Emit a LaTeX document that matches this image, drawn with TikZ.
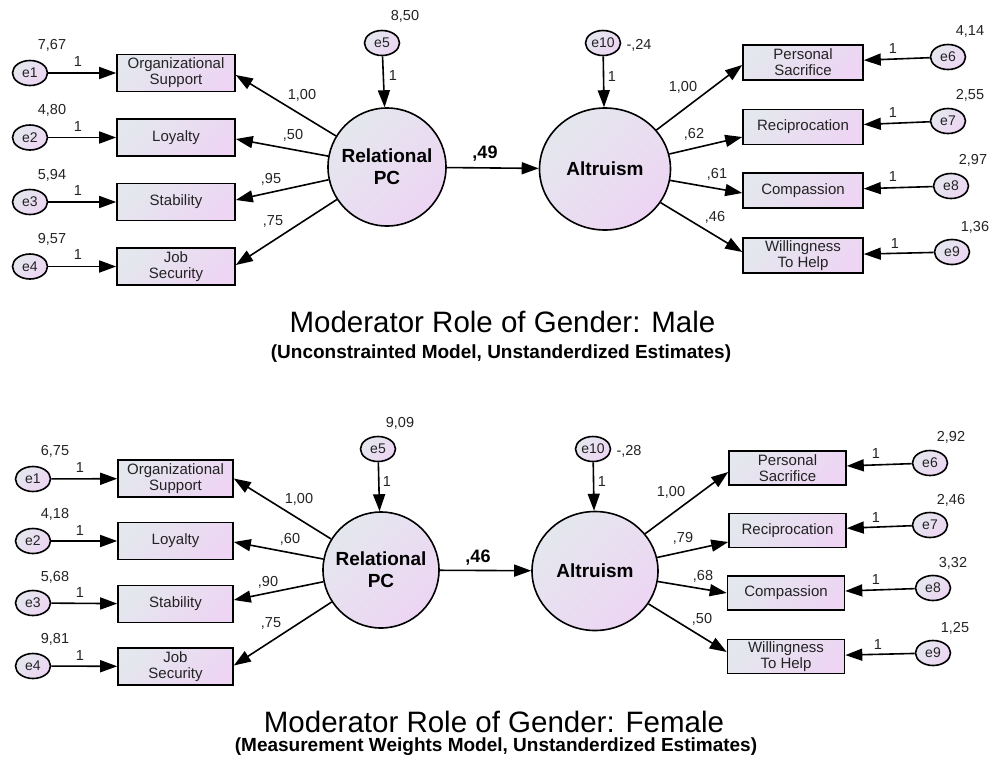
\documentclass[tikz,border=0pt]{standalone}
\usepackage{fontspec}
\setmainfont{Liberation Sans}
\usetikzlibrary{arrows.meta,calc,shapes.geometric}

\definecolor{gA}{RGB}{228,231,238}
\definecolor{gB}{RGB}{237,213,243}
\definecolor{txt}{RGB}{35,35,35}

\tikzset{
 shadedfill/.style={top color=gA, bottom color=gB, shading angle=45},
 errnode/.style={ellipse, draw=black, line width=1.6pt, shadedfill, minimum width=35pt, minimum height=25pt, inner sep=0pt, font=\fontsize{14}{15}\selectfont, text=txt},
 obsnode/.style={rectangle, draw=black, line width=1.6pt, shadedfill, inner sep=0pt, align=center, font=\fontsize{15}{16}\selectfont, text=txt},
 latnode/.style={ellipse, draw=black, line width=1.6pt, shadedfill, inner sep=0pt},
 lattext/.style={align=center, font=\fontsize{19}{22}\selectfont\bfseries, text=black, inner sep=0pt},
 num/.style={font=\fontsize{14.5}{16}\selectfont, text=txt, inner sep=0pt, anchor=base},
 conn/.style={line width=1.6pt, -{Triangle[length=17pt,width=12pt]}},
 coef/.style={font=\fontsize{18}{20}\selectfont\bfseries, inner sep=0pt, anchor=base},
 titletext/.style={font=\fontsize{29.5}{32}\selectfont, inner sep=0pt, anchor=base},
 subtitletext/.style={font=\fontsize{19}{21}\selectfont\bfseries, inner sep=0pt, anchor=base},
}

\begin{document}
\begin{tikzpicture}[x=1pt,y=-1pt]
\useasboundingbox (0,0) rectangle (990,763);

% ================= TOP PANEL =================
\node[errnode] (te1) at (30,73) {e1};
\node[errnode] (te2) at (30,137.5) {e2};
\node[errnode] (te3) at (30,202) {e3};
\node[errnode] (te4) at (30,266.5) {e4};

\node[obsnode, minimum width=118pt, minimum height=37pt] (torg) at (176,73) {Organizational\\Support};
\node[obsnode, minimum width=118pt, minimum height=37pt] (tloy) at (176,137.5) {Loyalty};
\node[obsnode, minimum width=118pt, minimum height=37pt] (tsta) at (176,202) {Stability};
\node[obsnode, minimum width=118pt, minimum height=37pt] (tjob) at (176,266.5) {Job\\Security};

\node[latnode, minimum width=118pt, minimum height=118pt] (trpc) at (387,167) {};
\node[lattext] (trpct) at (trpc.center) {Relational\\PC};
\node[errnode] (te5) at (382,43) {e5};

\node[latnode, minimum width=131pt, minimum height=122pt] (talt) at (605,169) {};
\node[lattext] (taltt) at (talt.center) {Altruism};
\node[errnode] (te10) at (603,43) {e10};

\node[obsnode, minimum width=120pt, minimum height=35pt] (tps) at (803,62.5) {Personal\\Sacrifice};
\node[obsnode, minimum width=120pt, minimum height=35pt] (trec) at (803,127) {Reciprocation};
\node[obsnode, minimum width=120pt, minimum height=35pt] (tcom) at (803,190.5) {Compassion};
\node[obsnode, minimum width=120pt, minimum height=35pt] (twil) at (803,255.5) {Willingness\\To Help};

\node[errnode] (te6) at (948,57) {e6};
\node[errnode] (te7) at (948,121) {e7};
\node[errnode] (te8) at (951,186) {e8};
\node[errnode] (te9) at (952,252) {e9};

% connectors
\draw[conn] (te1) -- (torg);
\draw[conn] (te2) -- (tloy);
\draw[conn] (te3) -- (tsta);
\draw[conn] (te4) -- (tjob);
\draw[conn] (trpc) -- ($(torg.east)+(0,2)$);
\draw[conn] (trpc) -- ($(tloy.east)+(0,1.5)$);
\draw[conn] (trpc) -- ($(tsta.east)+(0,-2)$);
\draw[conn] (trpc) -- ($(tjob.east)+(0,-1.5)$);
\draw[conn] (te5) -- (trpc);
\draw[conn] (trpc) -- (talt);
\draw[conn] (te10) -- (talt);
\draw[conn] (talt) -- ($(tps.west)+(0,2.5)$);
\draw[conn] (talt) -- ($(trec.west)+(0,10)$);
\draw[conn] (talt) -- ($(tcom.west)+(0,2.5)$);
\draw[conn] (talt) -- ($(twil.west)+(0,-3.5)$);
\draw[conn] (te6) -- (tps);
\draw[conn] (te7) -- (trec);
\draw[conn] (te8) -- (tcom);
\draw[conn] (te9) -- (twil);

% labels
\node[num] (tl1) at (52,49) {7,67};
\node[num] (tl2) at (52,114) {4,80};
\node[num] (tl3) at (52,179) {5,94};
\node[num] (tl4) at (52,243) {9,57};
\node[num] (to1) at (78,66) {1};
\node[num] (to2) at (78,131) {1};
\node[num] (to3) at (78,195) {1};
\node[num] (to4) at (78,259) {1};
\node[num] (tl5) at (405,20) {8,50};
\node[num] (to5) at (393,80) {1};
\node[num] (tc1) at (302,99) {1,00};
\node[num] (tc2) at (293,139) {,50};
\node[num] (tc3) at (271,183) {,95};
\node[num] (tc4) at (273,225) {,75};
\node[coef] (tmain) at (485,158) {,49};
\node[num] (tl10) at (639,49) {-,24};
\node[num] (to10) at (612,81) {1};
\node[num] (tc5) at (683,91) {1,00};
\node[num] (tc6) at (694,138) {,62};
\node[num] (tc7) at (717,178) {,61};
\node[num] (tc8) at (715,221) {,46};
\node[num] (to6) at (893,53) {1};
\node[num] (to7) at (893,117) {1};
\node[num] (to8) at (893,181) {1};
\node[num] (to9) at (895,248) {1};
\node[num] (tl6) at (970,35) {4,14};
\node[num] (tl7) at (970,99) {2,55};
\node[num] (tl8) at (973,164) {2,97};
\node[num] (tl9) at (975,231) {1,36};

\node[titletext] (ttitle) at (502.5,332) {Moderator Role of Gender: Male};
\node[subtitletext] (tsub) at (501,358) {(Unconstrainted Model, Unstanderdized Estimates)};

% ================= BOTTOM PANEL =================
\node[errnode] (be1) at (33,479) {e1};
\node[errnode] (be2) at (33,541) {e2};
\node[errnode] (be3) at (33,603) {e3};
\node[errnode] (be4) at (33,666) {e4};

\node[obsnode, minimum width=115pt, minimum height=37pt] (borg) at (175.5,478.5) {Organizational\\Support};
\node[obsnode, minimum width=115pt, minimum height=37pt] (bloy) at (175.5,541) {Loyalty};
\node[obsnode, minimum width=115pt, minimum height=37pt] (bsta) at (175.5,604) {Stability};
\node[obsnode, minimum width=115pt, minimum height=37pt] (bjob) at (175.5,666.5) {Job\\Security};

\node[latnode, minimum width=116pt, minimum height=116pt] (brpc) at (381,570) {};
\node[lattext] (brpct) at (brpc.center) {Relational\\PC};
\node[errnode] (be5) at (378,449) {e5};

\node[latnode, minimum width=126pt, minimum height=119pt] (balt) at (595,571) {};
\node[lattext] (baltt) at (balt.center) {Altruism};
\node[errnode] (be10) at (593,449) {e10};

\node[obsnode, minimum width=117pt, minimum height=34pt] (bps) at (787.5,468) {Personal\\Sacrifice};
\node[obsnode, minimum width=117pt, minimum height=34pt] (brec) at (787.5,530.5) {Reciprocation};
\node[obsnode, minimum width=117pt, minimum height=34pt] (bcom) at (786,593) {Compassion};
\node[obsnode, minimum width=117pt, minimum height=34pt] (bwil) at (786,656.5) {Willingness\\To Help};

\node[errnode] (be6) at (930,463) {e6};
\node[errnode] (be7) at (930,525) {e7};
\node[errnode] (be8) at (933,588) {e8};
\node[errnode] (be9) at (933,653) {e9};

\draw[conn] (be1) -- (borg);
\draw[conn] (be2) -- (bloy);
\draw[conn] (be3) -- (bsta);
\draw[conn] (be4) -- (bjob);
\draw[conn] (brpc) -- (borg.east);
\draw[conn] (brpc) -- ($(bloy.east)+(0,1)$);
\draw[conn] (brpc) -- ($(bsta.east)+(0,-4)$);
\draw[conn] (brpc) -- ($(bjob.east)+(0,-1)$);
\draw[conn] (be5) -- (brpc);
\draw[conn] (brpc) -- (balt);
\draw[conn] (be10) -- (balt);
\draw[conn] (balt) -- ($(bps.west)+(0,4)$);
\draw[conn] (balt) -- ($(brec.west)+(0,11.5)$);
\draw[conn] (balt) -- (bcom.west);
\draw[conn] (balt) -- ($(bwil.west)+(0,-4.5)$);
\draw[conn] (be6) -- (bps);
\draw[conn] (be7) -- (brec);
\draw[conn] (be8) -- (bcom);
\draw[conn] (be9) -- (bwil);

\node[num] (bl1) at (55,455) {6,75};
\node[num] (bl2) at (55,518) {4,18};
\node[num] (bl3) at (55,581) {5,68};
\node[num] (bl4) at (55,643) {9,81};
\node[num] (bo1) at (80,472) {1};
\node[num] (bo2) at (80,535) {1};
\node[num] (bo3) at (80,597) {1};
\node[num] (bo4) at (80,660) {1};
\node[num] (bl5) at (400,427) {9,09};
\node[num] (bo5) at (387,486) {1};
\node[num] (bc1) at (299,503) {1,00};
\node[num] (bc2) at (290,543) {,60};
\node[num] (bc3) at (268,586) {,90};
\node[num] (bc4) at (271,627) {,75};
\node[coef] (bmain) at (478,562) {,46};
\node[num] (bl10) at (629,455) {-,28};
\node[num] (bo10) at (602,486) {1};
\node[num] (bc5) at (671,496) {1,00};
\node[num] (bc6) at (683,542) {,79};
\node[num] (bc7) at (703,580) {,68};
\node[num] (bc8) at (702,623) {,50};
\node[num] (bo6) at (876,458) {1};
\node[num] (bo7) at (876,522) {1};
\node[num] (bo8) at (876,584) {1};
\node[num] (bo9) at (878,649) {1};
\node[num] (bl6) at (951,441) {2,92};
\node[num] (bl7) at (951,504) {2,46};
\node[num] (bl8) at (953,567) {3,32};
\node[num] (bl9) at (955,632) {1,25};

\node[titletext] (btitle) at (494,732) {Moderator Role of Gender: Female};
\node[subtitletext] (bsub) at (496,751) {(Measurement Weights Model, Unstanderdized Estimates)};
\end{tikzpicture}
\end{document}
